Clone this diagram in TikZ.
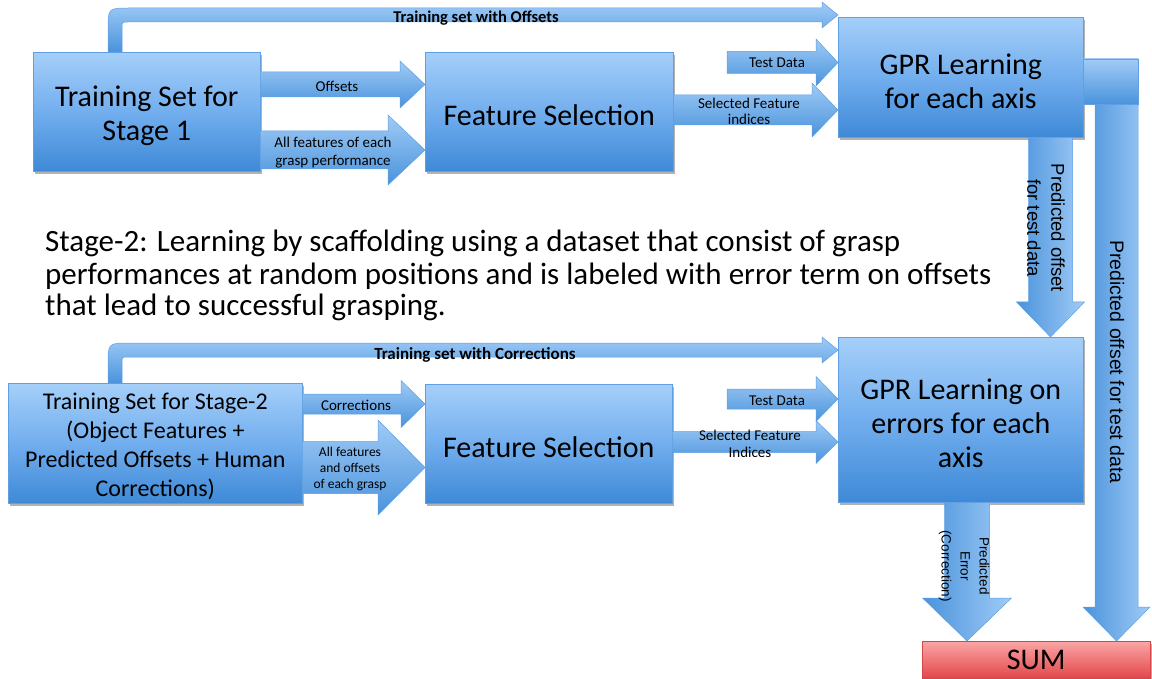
\documentclass[tikz,border=0pt]{standalone}
\usepackage{fontspec}
\setmainfont{Carlito}
\newfontfamily\helv{Liberation Sans}
\usetikzlibrary{calc,shadows}
\definecolor{boxtop}{HTML}{A5CFF9}
\definecolor{boxmid}{HTML}{72AEEE}
\definecolor{boxbot}{HTML}{3E89D7}
\definecolor{edgeblue}{HTML}{5F9FE2}
\definecolor{arrtop}{HTML}{A0CBF6}
\definecolor{arrbot}{HTML}{4A93DC}
\definecolor{sumtop}{HTML}{FBA5A5}
\definecolor{sumbot}{HTML}{E3474A}
\definecolor{sumedge}{HTML}{D0484A}
% right-pointing block arrow: from, to, y centre, shaft half, head half, head length, style
\newcommand\rblock[7]{%
  \path[#7] ($(#1 |- 0,#3)+(0,-#4)$) -- ($(#2 |- 0,#3)+(-#6,-#4)$)
    -- ($(#2 |- 0,#3)+(-#6,-#5)$) -- (#2 |- 0,#3)
    -- ($(#2 |- 0,#3)+(-#6,#5)$) -- ($(#2 |- 0,#3)+(-#6,#4)$)
    -- ($(#1 |- 0,#3)+(0,#4)$) -- cycle;}
% down-pointing block arrow: from, to, x centre, shaft half, head half, head length, style
\newcommand\dblock[7]{%
  \path[#7] ($(#3,0 |- #1)+(-#4,0)$) -- ($(#3,0 |- #2)+(-#4,-#6)$)
    -- ($(#3,0 |- #2)+(-#5,-#6)$) -- (#3,0 |- #2)
    -- ($(#3,0 |- #2)+(#5,-#6)$) -- ($(#3,0 |- #2)+(#4,-#6)$)
    -- ($(#3,0 |- #1)+(#4,0)$) -- cycle;}
\tikzset{
  box/.style={draw=edgeblue, line width=0.6pt, top color=boxtop, bottom color=boxbot,
    middle color=boxmid, inner sep=0pt, anchor=north west,
    drop shadow={shadow xshift=1.5pt, shadow yshift=-2.5pt, opacity=0.3, fill=black}},
  boxtext/.style={align=center, inner sep=0pt},
  harr/.style={draw=edgeblue, line width=0.5pt, top color=arrtop, bottom color=arrbot},
  varr/.style={draw=edgeblue, line width=0.5pt, left color=arrbot, right color=arrtop},
  lbl/.style={font=\fontsize{15}{17}\selectfont, align=center, inner sep=0pt},
  toplbl/.style={font=\bfseries\fontsize{16.5}{18}\selectfont, inner sep=0pt},
  big/.style={font=\fontsize{30}{34}\selectfont},
  vlbl/.style={rotate=-90, align=center, inner sep=0pt},
  stagetxt/.style={anchor=base west, inner sep=0pt, font=\fontsize{31}{32}\selectfont},
}
\begin{document}
\begin{tikzpicture}[x=1pt,y=-1pt]
\fill[white] (0,0) rectangle (1152,679);
\useasboundingbox (0,0) rectangle (1152,679);

% ---------- boxes ----------
\node[box, minimum width=227pt, minimum height=119pt] (A) at (33,52) {};
\node[boxtext, big] (Atx) at ([yshift=-3.5pt]A.center) {Training Set for\\Stage 1};
\node[box, minimum width=248pt, minimum height=119pt] (FS1) at (425,52) {};
\node[boxtext, big] (FS1tx) at ([yshift=-3pt]FS1.center) {Feature Selection};
\node[box, minimum width=245pt, minimum height=120pt] (G1) at (838,17) {};
\node[boxtext, big] (G1tx) at ([yshift=-4pt]G1.center) {GPR Learning\\for each axis};
\node[box, minimum width=294pt, minimum height=120pt] (B) at (8,383) {};
\node[boxtext, font=\fontsize{24}{29}\selectfont] (Btx) at ([yshift=-3.5pt]B.center)
  {Training Set for Stage-2\\(Object Features +\\Predicted Offsets + Human\\Corrections)};
\node[box, minimum width=247pt, minimum height=119pt] (FS2) at (425,384) {};
\node[boxtext, big] (FS2tx) at ([yshift=-3pt]FS2.center) {Feature Selection};
\node[box, minimum width=245pt, minimum height=165pt] (G2) at (838,337) {};
\node[boxtext, big] (G2tx) at ([yshift=-3pt]G2.center) {GPR Learning on\\errors for each\\axis};
\node[box, draw=sumedge, top color=sumtop, bottom color=sumbot, middle color=sumtop!50!sumbot,
  minimum width=228pt, minimum height=37pt] (SUM) at (922,641) {};
\node[boxtext, big] (SUMtx) at (SUM.center) {SUM};

% ---------- stage 1 arrows ----------
\path[harr] (108,0 |- A.north) -- (108,30) .. controls (108,8) .. (130,8)
  -- ($(G1.west |- 0,8)+(-16,0)$) -- ($(G1.west |- 0,2)+(-16,0)$) -- (G1.west |- 0,15)
  -- ($(G1.west |- 0,28)+(-16,0)$) -- ($(G1.west |- 0,22)+(-16,0)$)
  -- (128,22) .. controls (122,22) .. (122,28) -- (122,0 |- A.north) -- cycle;
\node[toplbl] (t1) at (476,18) {Training set with Offsets};

\rblock{A.east}{FS1.west}{84.5}{12.5}{23.5}{25}{harr}
\node[lbl] (l1) at (337,86) {Offsets};
\rblock{A.east}{FS1.west}{150}{19}{35}{37}{harr}
\node[lbl, font=\fontsize{15}{18}\selectfont] (l2) at (333,153) {All features of each\\grasp performance};

\coordinate (td1) at (727,62.5);
\rblock{td1}{G1.west}{62.5}{11}{23.5}{22}{harr}
\node[lbl] (l3) at (777,63) {Test Data};
\rblock{FS1.east}{G1.west}{110}{15}{27}{26}{harr}
\node[lbl, font=\fontsize{15}{16}\selectfont] (l4) at (749,111) {Selected Feature\\indices};

% ---------- stage 2 text ----------
\node[stagetxt] (s1) at (45,252) {Stage-2: Learning by scaffolding using a dataset that consist of grasp};
\node[stagetxt] (s2) at (45,284) {performances at random positions and is labeled with error term on offsets};
\node[stagetxt] (s3) at (45,316) {that lead to successful grasping.};

% ---------- stage 2 arrows ----------
\path[harr] (108,0 |- B.north) -- (108,365) .. controls (108,343) .. (130,343)
  -- ($(G2.west |- 0,343)+(-16,0)$) -- ($(G2.west |- 0,337)+(-16,0)$) -- (G2.west |- 0,350)
  -- ($(G2.west |- 0,363)+(-16,0)$) -- ($(G2.west |- 0,357)+(-16,0)$)
  -- (128,357) .. controls (122,357) .. (122,363) -- (122,0 |- B.north) -- cycle;
\node[toplbl, font=\bfseries\fontsize{17}{18}\selectfont] (t2) at (475,355) {Training set with Corrections};

\rblock{B.east}{FS2.west}{404}{10}{23.5}{24}{harr}
\node[lbl] (l5) at (356,405) {Corrections};
\rblock{B.east}{FS2.west}{467.5}{26}{47.5}{47}{harr}
\node[lbl, font=\fontsize{13.5}{16}\selectfont] (l6) at (350,469) {All features\\and offsets\\of each grasp};

\coordinate (td2) at (727,399);
\rblock{td2}{G2.west}{399}{10}{22.5}{22}{harr}
\node[lbl] (l7) at (777,401) {Test Data};
\rblock{FS2.east}{G2.west}{442}{10.5}{21.5}{22}{harr}
\node[lbl, font=\fontsize{15}{17}\selectfont] (l8) at (750,444) {Selected Feature\\Indices};

% ---------- vertical arrows ----------
\dblock{G1.south}{G2.north}{1050.5}{22}{34}{35}{varr}
\node[vlbl, font=\helv\fontsize{18.5}{24}\selectfont] (l9) at (1046,228) {Predicted offset\\for test data};

\dblock{G2.south}{SUM.north}{967}{22.5}{44.5}{43}{varr}
\node[vlbl, font=\helv\fontsize{13.5}{19}\selectfont] (l10) at (964,566) {Predicted\\Error\\(Correction)};

\coordinate (Lc) at (1116.5,59);
\dblock{Lc}{SUM.north}{1116.5}{21.5}{33.5}{34}{varr}
\path[harr] (G1.east |- 0,59) rectangle (1138,104);
\node[vlbl, font=\helv\fontsize{19.5}{24}\selectfont] (l11) at (1117,362) {Predicted offset for test data};
\end{tikzpicture}
\end{document}
